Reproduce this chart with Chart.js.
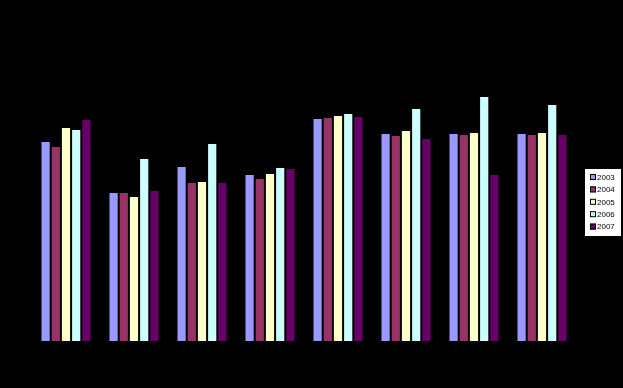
<!DOCTYPE html>
<html>
<head>
<meta charset="utf-8">
<script src="https://cdn.jsdelivr.net/npm/chart.js@4/dist/chart.umd.min.js"></script>
<style>
  html, body { margin: 0; padding: 0; background: #000; }
  #wrap { width: 623px; height: 388px; }
</style>
</head>
<body>
<div id="wrap"><canvas id="chart"></canvas></div>
<script>
// categories have no visible labels in the picture
const categories = ['1', '2', '3', '4', '5', '6', '7', '8'];
const years = ['2003', '2004', '2005', '2006', '2007'];
const colors = ['#9999FF', '#993366', '#FFFFCC', '#CCFFFF', '#660066'];

// bar heights (arbitrary units, no axis shown)
const v2003 = [200, 149, 175, 167, 223, 208, 208, 208];
const v2004 = [195, 149, 159, 163, 224, 206, 207, 207];
const v2005 = [214, 145, 160, 168, 226, 211, 209, 209];
const v2006 = [212, 183, 198, 174, 228, 233, 245, 237];
const v2007 = [222, 151, 159, 173, 225, 203, 167, 207];
const series = [v2003, v2004, v2005, v2006, v2007];

// legend drawn as a small white box on the right, like the original
const boxLegend = {
    id: 'boxLegend',
    afterDraw(c) {
        const ctx = c.ctx;
        ctx.save();
        ctx.fillStyle = '#fff';
        ctx.fillRect(585, 169, 36, 67);
        ctx.font = '8px "Liberation Sans", Arial, sans-serif';
        ctx.textBaseline = 'middle';
        c.data.datasets.forEach((ds, i) => {
            const y = 177 + i * 12.4;
            ctx.fillStyle = ds.backgroundColor;
            ctx.fillRect(590, y - 3, 6, 6);
            ctx.strokeStyle = '#000';
            ctx.lineWidth = 1;
            ctx.strokeRect(590.5, y - 2.5, 5, 5);
            ctx.fillStyle = '#000';
            ctx.fillText(ds.label, 597, y + 0.5);
        });
        ctx.restore();
    }
};

new Chart(document.getElementById('chart'), {
    type: 'bar',
    data: {
        labels: categories,
        datasets: years.map((y, i) => ({
            label: y,
            data: series[i],
            backgroundColor: colors[i],
            borderColor: '#000',
            borderWidth: 1,
            categoryPercentage: 0.75,
            barPercentage: 1
        }))
    },
    options: {
        responsive: true,
        maintainAspectRatio: false,
        animation: false,
        layout: { padding: { left: 32, right: 47, top: 91, bottom: 47 } },
        plugins: {
            legend: { display: false },
            tooltip: { enabled: false }
        },
        scales: {
            x: { display: false },
            y: { display: false, min: 0, max: 250 }
        }
    },
    plugins: [boxLegend]
});
</script>
</body>
</html>
